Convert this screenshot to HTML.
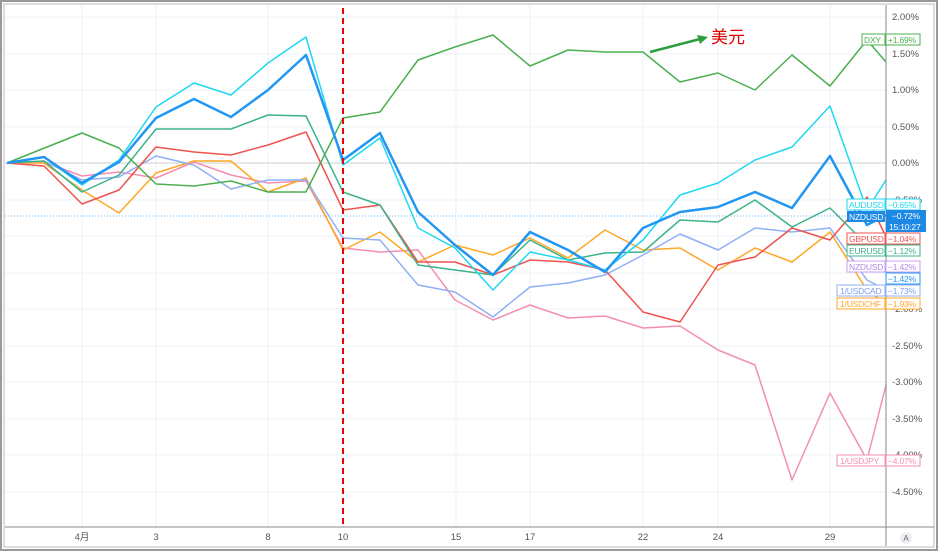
<!DOCTYPE html>
<html><head><meta charset="utf-8"><style>
body{margin:0;background:#fff}
svg{display:block;font-family:"Liberation Sans","Noto Sans CJK SC",sans-serif}
</style></head><body>
<svg width="938" height="551" viewBox="0 0 938 551" xmlns="http://www.w3.org/2000/svg">
<rect x="1" y="1" width="936" height="549" fill="#fff" stroke="#999" stroke-width="2"/>
<rect x="4" y="4" width="930" height="543" fill="none" stroke="#bbb" stroke-width="1"/>
<g stroke="#eef3f8" stroke-width="1">
<line x1="82" y1="5" x2="82" y2="527"/><line x1="156" y1="5" x2="156" y2="527"/><line x1="268" y1="5" x2="268" y2="527"/><line x1="456" y1="5" x2="456" y2="527"/><line x1="530" y1="5" x2="530" y2="527"/><line x1="643" y1="5" x2="643" y2="527"/><line x1="718" y1="5" x2="718" y2="527"/><line x1="830" y1="5" x2="830" y2="527"/>
<line x1="5" y1="17" x2="886" y2="17"/><line x1="5" y1="54" x2="886" y2="54"/><line x1="5" y1="90" x2="886" y2="90"/><line x1="5" y1="127" x2="886" y2="127"/><line x1="5" y1="200" x2="886" y2="200"/><line x1="5" y1="236" x2="886" y2="236"/><line x1="5" y1="273" x2="886" y2="273"/><line x1="5" y1="309" x2="886" y2="309"/><line x1="5" y1="346" x2="886" y2="346"/><line x1="5" y1="382" x2="886" y2="382"/><line x1="5" y1="419" x2="886" y2="419"/><line x1="5" y1="455" x2="886" y2="455"/><line x1="5" y1="492" x2="886" y2="492"/>
</g>
<line x1="5" y1="163" x2="886" y2="163" stroke="#ccc" stroke-width="1"/>
<line x1="5" y1="216" x2="886" y2="216" stroke="#64b5f6" stroke-width="1" stroke-dasharray="1,2"/>
<g fill="none" stroke-width="1.5" stroke-linejoin="round">
<polyline stroke="#f48fb1" points="7,163 44,162 82,176 119,172 156,178 194,162 231,175 268,183 306,181 343,248 380,252 418,250 455,300 493,320 530,305 568,318 605,316 643,328 680,326 718,350 755,365 792,480 830,393 867,460 886,385"/>
<polyline stroke="#ffa726" points="7,163 44,163 82,190 119,213 156,173 194,161 231,161 268,192 306,178 343,250 380,232 418,262 455,245 493,255 530,238 568,258 605,230 643,250 680,248 718,270 755,248 792,262 830,232 867,290 886,304"/>
<polyline stroke="#8fb0f5" points="7,163 44,161 82,180 119,177 156,156 194,165 231,189 268,180 306,180 343,238 380,240 418,285 455,292 493,317 530,287 568,283 605,275 643,255 680,234 718,250 755,228 792,232 830,228 867,280 886,290"/>
<polyline stroke="#ef5350" points="7,163 44,166 82,204 119,190 156,147 194,152 231,155 268,145 306,132 343,210 380,205 418,262 455,262 493,275 530,260 568,262 605,270 643,312 680,322 718,265 755,257 792,228 830,240 867,197 886,237"/>
<polyline stroke="#3cb38a" points="7,163 44,161 82,192 119,175 156,129 194,129 231,129 268,115 306,116 343,192 380,205 418,265 455,270 493,275 530,240 568,260 605,253 643,252 680,220 718,222 755,200 792,227 830,208 867,245 886,245"/>
<polyline stroke="#4caf50" points="7,163 82,133 119,148 156,184 194,186 231,181 268,192 306,192 343,118 380,112 418,60 455,47 493,35 530,66 568,50 605,52 643,52 680,82 718,73 755,90 792,55 830,86 867,40 886,62"/>
<polyline stroke="#1fd7f2" points="7,163 44,157 82,185 119,160 156,107 194,83 231,95 268,63 306,37 343,165 380,138 418,228 455,248 493,290 530,252 568,260 605,270 643,240 680,195 718,183 755,160 792,147 830,106 867,210 886,180"/>
<polyline stroke="#2196f3" stroke-width="2.5" points="7,163 44,157 82,183 119,162 156,118 194,99 231,117 268,90 306,55 343,160 380,133 418,212 455,245 493,275 530,232 568,250 605,272 643,228 680,212 718,207 755,192 792,208 830,156 867,225 886,215"/>
</g>
<line x1="343" y1="8" x2="343" y2="527" stroke="#e00" stroke-width="2" stroke-dasharray="6,4"/>
<line x1="650" y1="52" x2="700" y2="39" stroke="#2e9e3e" stroke-width="2.5"/>
<polygon points="708,37 697,35 700,44" fill="#2e9e3e"/>
<text x="711" y="43" font-size="17" fill="#e00000">美元</text>
<line x1="886" y1="5" x2="886" y2="546" stroke="#888"/>
<line x1="5" y1="527" x2="934" y2="527" stroke="#888"/>
<g font-size="9.5" fill="#555">
<text x="892" y="20">2.00%</text><text x="892" y="57">1.50%</text><text x="892" y="93">1.00%</text><text x="892" y="130">0.50%</text><text x="892" y="166">0.00%</text><text x="892" y="203">-0.50%</text><text x="892" y="312">-2.00%</text><text x="892" y="349">-2.50%</text><text x="892" y="385">-3.00%</text><text x="892" y="422">-3.50%</text><text x="892" y="458">-4.00%</text><text x="892" y="495">-4.50%</text>
</g>
<g font-size="9.5" fill="#555" text-anchor="middle">
<text x="82" y="540">4月</text><text x="156" y="540">3</text><text x="268" y="540">8</text><text x="343" y="540">10</text><text x="456" y="540">15</text><text x="530" y="540">17</text><text x="643" y="540">22</text><text x="718" y="540">24</text><text x="830" y="540">29</text>
</g>
<circle cx="906" cy="538" r="6" fill="#eef0f4"/><text x="906" y="541" font-size="8" fill="#666" text-anchor="middle">A</text>
<g font-size="8.5" style="letter-spacing:-0.2px">
<rect x="862" y="34" width="23" height="11" fill="#fff" stroke="#4caf50"/><text x="864" y="43" fill="#4caf50">DXY</text>
<rect x="886" y="34" width="34" height="11" fill="#fff" stroke="#4caf50"/><text x="888" y="43" fill="#4caf50">+1.69%</text>
<rect x="847" y="199" width="38" height="11" fill="#fff" stroke="#1fd7f2"/><text x="849" y="208" fill="#1fd7f2">AUDUSD</text>
<rect x="886" y="199" width="34" height="11" fill="#fff" stroke="#1fd7f2"/><text x="888" y="208" fill="#1fd7f2">−0.65%</text>
<rect x="847" y="211" width="38" height="11" fill="#1e88e5"/><text x="849" y="220" fill="#fff">NZDUSD</text>
<rect x="886" y="210" width="40" height="22" fill="#1e88e5"/><text x="892" y="219" fill="#fff">−0.72%</text><text x="889" y="230" fill="#fff">15:10:27</text>
<rect x="847" y="233" width="38" height="11" fill="#fff" stroke="#ef5350"/><text x="849" y="242" fill="#ef5350">GBPUSD</text>
<rect x="886" y="233" width="34" height="11" fill="#fff" stroke="#ef5350"/><text x="888" y="242" fill="#ef5350">−1.04%</text>
<rect x="847" y="245" width="38" height="11" fill="#fff" stroke="#3cb38a"/><text x="849" y="254" fill="#3cb38a">EURUSD</text>
<rect x="886" y="245" width="34" height="11" fill="#fff" stroke="#3cb38a"/><text x="888" y="254" fill="#3cb38a">−1.12%</text>
<rect x="847" y="261" width="38" height="11" fill="#fff" stroke="#c5a0f0"/><text x="849" y="270" fill="#b388e8">NZDUSD</text>
<rect x="886" y="261" width="34" height="11" fill="#fff" stroke="#c5a0f0"/><text x="888" y="270" fill="#b388e8">−1.42%</text>
<rect x="886" y="273" width="34" height="11" fill="#fff" stroke="#2196f3"/><text x="888" y="282" fill="#2196f3">−1.42%</text>
<rect x="837" y="285" width="48" height="11" fill="#fff" stroke="#8fb0f5"/><text x="840" y="294" fill="#7d9ef0">1/USDCAD</text>
<rect x="886" y="285" width="34" height="11" fill="#fff" stroke="#8fb0f5"/><text x="888" y="294" fill="#7d9ef0">−1.73%</text>
<rect x="837" y="298" width="48" height="11" fill="#fff" stroke="#ffa726"/><text x="840" y="307" fill="#ffa726">1/USDCHF</text>
<rect x="886" y="298" width="34" height="11" fill="#fff" stroke="#ffa726"/><text x="888" y="307" fill="#ffa726">−1.93%</text>
<rect x="837" y="455" width="48" height="11" fill="#fff" stroke="#f48fb1"/><text x="840" y="464" fill="#f48fb1">1/USDJPY</text>
<rect x="886" y="455" width="34" height="11" fill="#fff" stroke="#f48fb1"/><text x="888" y="464" fill="#f48fb1">−4.07%</text>
</g>
</svg>
</body></html>
